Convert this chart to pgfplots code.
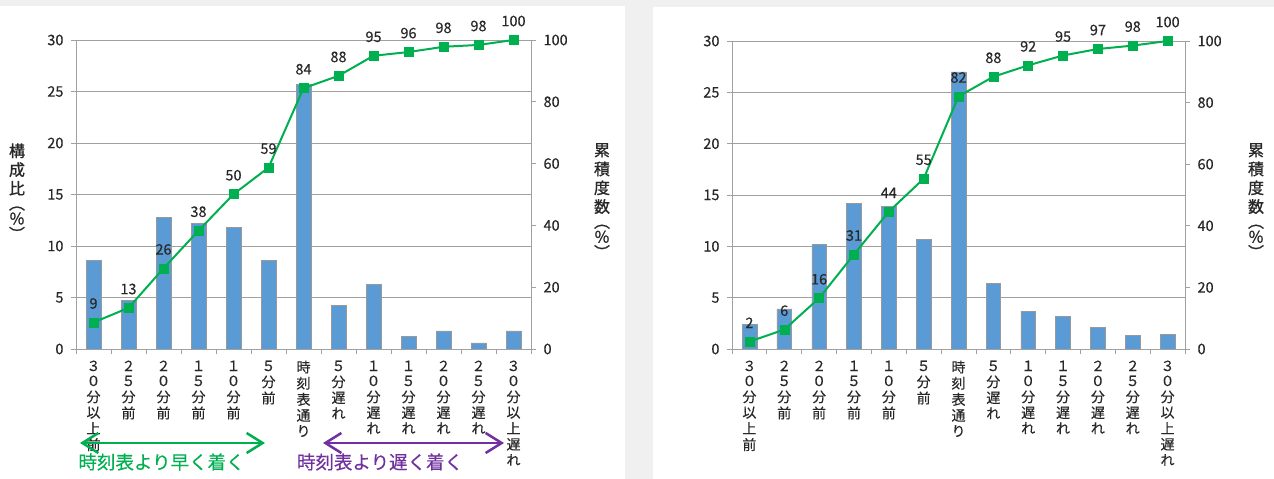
\documentclass[border=0pt]{standalone}
\usepackage{fontspec}
\setmainfont{Noto Sans CJK JP}[RawFeature={embolden=0.3}]
\newfontfamily\titlefont{Noto Sans CJK JP}[RawFeature={embolden=1.0}]
\usepackage{pgfplots}
\pgfplotsset{compat=1.18}
\usetikzlibrary{arrows.meta}
\definecolor{barblue}{RGB}{91,155,213}
\definecolor{lgreen}{RGB}{0,176,80}
\definecolor{lpurple}{RGB}{112,48,160}
\definecolor{gridgray}{RGB}{160,160,160}
\definecolor{bggray}{RGB}{240,240,240}
\definecolor{txt}{RGB}{40,40,40}
\newcommand{\vt}[1]{\begin{tabular}[t]{@{}c@{}}#1\end{tabular}}
\pgfplotsset{
  base/.style={scale only axis, xmin=-0.5, xmax=12.5,
    tick label style={font=\fontsize{14.5}{15}\selectfont, text=txt},
    /pgf/number format/assume math mode=true,
    axis line style={gridgray, line width=0.8pt},
    tick style={gridgray, line width=0.8pt},
    tick align=outside, major tick length=5pt},
  barax/.style={base, ymin=0, ymax=30, ytick={0,5,...,30},
    axis y line*=left, axis x line*=bottom,
    ymajorgrids, grid style={gridgray, line width=0.8pt},
    yticklabel style={xshift=-4pt},
    xtick={-0.5,0.5,1.5,2.5,3.5,4.5,5.5,6.5,7.5,8.5,9.5,10.5,11.5,12.5},
    xticklabels={{\vt{３\\０\\分\\以\\上\\前}},{\vt{２\\５\\分\\前}},{\vt{２\\０\\分\\前}},{\vt{１\\５\\分\\前}},{\vt{１\\０\\分\\前}},{\vt{５\\分\\前}},{\vt{時\\刻\\表\\通\\り}},{\vt{５\\分\\遅\\れ}},{\vt{１\\０\\分\\遅\\れ}},{\vt{１\\５\\分\\遅\\れ}},{\vt{２\\０\\分\\遅\\れ}},{\vt{２\\５\\分\\遅\\れ}},{\vt{３\\０\\分\\以\\上\\遅\\れ}},{}},
    xticklabel style={anchor=north, yshift=-3pt, font=\fontsize{14}{15}\selectfont},
  },
  lineax/.style={base, ymin=0, ymax=100, ytick={0,20,...,100},
    yticklabel style={xshift=4pt},
    axis y line*=right, axis x line=none},
  cumline/.style={lgreen, line width=2pt, mark=square*, mark size=4.5pt,
    mark options={solid, fill=lgreen, draw=lgreen, line width=0.5pt},
    nodes near coords, point meta=explicit symbolic,
    every node near coord/.append style={font=\fontsize{14.5}{15}\selectfont, text=txt, anchor=south, yshift=10pt}},
}
\begin{document}
\begin{tikzpicture}[x=1pt,y=1pt]
\fill[bggray] (0,0) rectangle (1274,479);
\fill[white] (0,0) rectangle (625,473);
\fill[white] (653,0) rectangle (1274,472);

% ---------- left chart ----------
\begin{axis}[barax, width=455pt, height=309pt, at={(76pt,130pt)}, anchor=south west,
  xticklabel style={xshift=17.5pt}]
\addplot[ybar, bar width=15pt, fill=barblue, draw=gray!80, line width=0.5pt]
  coordinates {(0,8.6) (1,4.7) (2,12.8) (3,12.2) (4,11.8) (5,8.6) (6,25.7) (7,4.2) (8,6.3) (9,1.2) (10,1.75) (11,0.6) (12,1.75)};
\end{axis}
\begin{axis}[lineax, width=455pt, height=309pt, at={(76pt,130pt)}, anchor=south west]
\addplot[cumline] table[meta=l] {
x y l
0 8.6 9
1 13.3 13
2 26.1 26
3 38.3 38
4 50.1 50
5 58.7 59
6 84.4 84
7 88.4 88
8 94.9 95
9 96.1 96
10 97.8 98
11 98.4 98
12 100 100
};
\end{axis}

% ---------- right chart ----------
\begin{axis}[barax, width=453pt, height=308pt, at={(732pt,130pt)}, anchor=south west,
  xticklabel style={xshift=17.4pt}]
\addplot[ybar, bar width=14.7pt, fill=barblue, draw=gray!80, line width=0.5pt]
  coordinates {(0,2.4) (1,3.9) (2,10.2) (3,14.2) (4,13.9) (5,10.7) (6,27.0) (7,6.4) (8,3.7) (9,3.2) (10,2.1) (11,1.3) (12,1.4)};
\end{axis}
\begin{axis}[lineax, width=453pt, height=308pt, at={(732pt,130pt)}, anchor=south west]
\addplot[cumline] table[meta=l] {
x y l
0 2.4 2
1 6.3 6
2 16.5 16
3 30.7 31
4 44.6 44
5 55.3 55
6 82.0 82
7 88.4 88
8 92.1 92
9 95.3 95
10 97.4 97
11 98.5 98
12 100 100
};
\end{axis}

% axis titles
\node[text=txt, font=\titlefont\fontsize{16}{18}\selectfont] at (17,284.5) {\vt{構\\成\\比\\[-3pt]︵\\[-3pt]\%\\[-3pt]︶}};
\node[text=txt, font=\titlefont\fontsize{16}{18}\selectfont] at (602,275.5) {\vt{累\\積\\度\\数\\[-3pt]︵\\[-3pt]\%\\[-3pt]︶}};
\node[text=txt, font=\titlefont\fontsize{16}{18}\selectfont] at (1256,275.5) {\vt{累\\積\\度\\数\\[-3pt]︵\\[-3pt]\%\\[-3pt]︶}};

% annotations
\draw[lgreen, line width=2.5pt, {Straight Barb[length=16pt,width=20pt]}-{Straight Barb[length=16pt,width=20pt]}] (80,36) -- (265,36);
\draw[lpurple, line width=2.5pt, {Straight Barb[length=16pt,width=20pt]}-{Straight Barb[length=16pt,width=20pt]}] (323,36) -- (504,36);
\node[text=lgreen, font=\fontsize{18.5}{20}\selectfont, inner sep=0pt] at (161.5,17) {時刻表より早く着く};
\node[text=lpurple, font=\fontsize{18.5}{20}\selectfont, inner sep=0pt] at (380,17) {時刻表より遅く着く};

\pgfresetboundingbox
\useasboundingbox (0,0) rectangle (1274,479);
\end{tikzpicture}
\end{document}
